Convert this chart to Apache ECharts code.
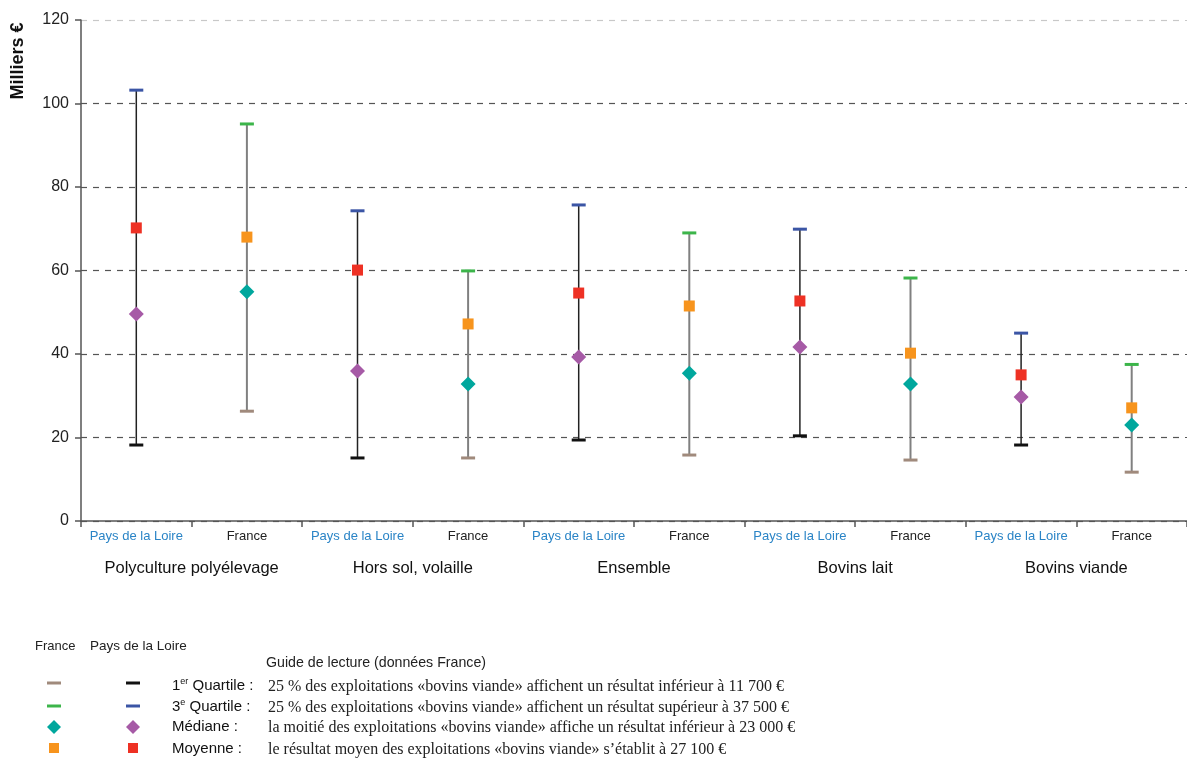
<!DOCTYPE html>
<html><head><meta charset="utf-8">
<script src="https://cdn.jsdelivr.net/npm/echarts@6/dist/echarts.min.js"></script>
<style>html,body{margin:0;padding:0;background:#fff}#c{width:1187px;height:758px}</style>
</head><body><div id="c"></div>
<script>
var groups = ['Polyculture polyélevage', 'Hors sol, volaille', 'Ensemble', 'Bovins lait', 'Bovins viande'];
var categories = ['Pays de la Loire','France','Pays de la Loire','France','Pays de la Loire','France','Pays de la Loire','France','Pays de la Loire','France'];
// Pays de la Loire values (milliers €), one per group
var pdlQ1 = [18.2, 15.1, 19.4, 20.4, 18.2];
var pdlQ3 = [103.2, 74.3, 75.7, 69.9, 45.0];
var pdlMedian = [49.6, 35.9, 39.3, 41.7, 29.7];
var pdlMean = [70.2, 60.1, 54.6, 52.7, 35.0];
// France values
var frQ1 = [26.3, 15.1, 15.8, 14.6, 11.7];
var frQ3 = [95.1, 59.9, 69.0, 58.2, 37.5];
var frMedian = [54.9, 32.8, 35.4, 32.8, 23.0];
var frMean = [68.0, 47.2, 51.5, 40.2, 27.1];
var yTicks = [0, 20, 40, 60, 80, 100, 120];

var legendRows = [
  {label: '1', sup: 'er', rest: ' Quartile :', text: '25 % des exploitations «bovins viande» affichent un résultat inférieur à 11 700 €'},
  {label: '3', sup: 'e', rest: ' Quartile :', text: '25 % des exploitations «bovins viande» affichent un résultat supérieur à 37 500 €'},
  {label: 'Médiane :', sup: '', rest: '', text: 'la moitié des exploitations «bovins viande» affiche un résultat inférieur à 23 000 €'},
  {label: 'Moyenne :', sup: '', rest: '', text: 'le résultat moyen des exploitations «bovins viande» s’établit à 27 100 €'}
];

var C = {
  pdlStem: '#222', frStem: '#808080',
  pdlQ1: '#111', frQ1: '#a08a7c',
  pdlQ3: '#3b55a5', frQ3: '#3cb54a',
  pdlMed: '#a65aa6', frMed: '#00a79d',
  pdlMean: '#ee3124', frMean: '#f7941d'
};

function idx(g, isF){ return g*2 + (isF?1:0); }
function whiskerData(q1, q3, isF){ return q1.map(function(v,g){ return [idx(g,isF), v, q3[g]]; }); }
function pointData(arr, isF){ return arr.map(function(v,g){ return [idx(g,isF), v]; }); }

function makeWhisker(name, data, stem, c1, c3, sw){
  return {
    type: 'custom', name: name, xAxisIndex: 0, yAxisIndex: 0, z: 2,
    data: data,
    renderItem: function(params, api){
      var x = api.value(0);
      var lo = api.coord([x, api.value(1)]);
      var hi = api.coord([x, api.value(2)]);
      var hw = 7;
      return {type: 'group', children: [
        {type: 'line', shape: {x1: lo[0], y1: lo[1], x2: hi[0], y2: hi[1]}, style: {stroke: stem, lineWidth: sw}},
        {type: 'line', shape: {x1: lo[0]-hw, y1: lo[1], x2: lo[0]+hw, y2: lo[1]}, style: {stroke: c1, lineWidth: 3}},
        {type: 'line', shape: {x1: hi[0]-hw, y1: hi[1], x2: hi[0]+hw, y2: hi[1]}, style: {stroke: c3, lineWidth: 3}}
      ]};
    }
  };
}

var narrow = '"Liberation Sans Narrow", "Liberation Sans", Arial, sans-serif';
var sans = '"Liberation Sans", Arial, sans-serif';
var serif = '"Liberation Serif", "DejaVu Serif", serif';

var graphics = [
  {type: 'text', rotation: Math.PI/2, x: 18, y: 61, style: {text: 'Milliers €', font: 'bold 18px ' + sans, fill: '#111', align: 'center', verticalAlign: 'middle'}},
  {type: 'text', x: 35, y: 646, style: {text: 'France', font: '13px ' + narrow, fill: '#222', verticalAlign: 'middle'}},
  {type: 'text', x: 90, y: 646, style: {text: 'Pays de la Loire', font: '13.5px ' + narrow, fill: '#222', verticalAlign: 'middle'}},
  {type: 'text', x: 266, y: 663, style: {text: 'Guide de lecture (données France)', font: '14.2px ' + narrow, fill: '#222', verticalAlign: 'middle'}}
];
var rowY = [686, 707, 727, 749];
rowY.forEach(function(y, i){
  var r = legendRows[i];
  var lx = 172;
  graphics.push({type: 'text', x: lx, y: y, style: {
    text: r.sup ? '{a|' + r.label + '}{s|' + r.sup + '}{a|' + r.rest + '}' : '{a|' + r.label + '}',
    rich: {a: {font: '15px ' + narrow, fill: '#111'}, s: {font: '9px ' + narrow, fill: '#111', verticalAlign: 'top', padding: [0,0,9,0]}},
    verticalAlign: 'middle'}});
  graphics.push({type: 'text', x: 268, y: y + 1, style: {text: r.text, font: '16px ' + serif, fill: '#222', verticalAlign: 'middle'}});
});
// legend symbols
graphics.push({type: 'line', shape: {x1: 47, y1: 683, x2: 61, y2: 683}, style: {stroke: C.frQ1, lineWidth: 3}});
graphics.push({type: 'line', shape: {x1: 126, y1: 683, x2: 140, y2: 683}, style: {stroke: C.pdlQ1, lineWidth: 3}});
graphics.push({type: 'line', shape: {x1: 47, y1: 706, x2: 61, y2: 706}, style: {stroke: C.frQ3, lineWidth: 3}});
graphics.push({type: 'line', shape: {x1: 126, y1: 706, x2: 140, y2: 706}, style: {stroke: C.pdlQ3, lineWidth: 3}});
graphics.push({type: 'polygon', shape: {points: [[54,720],[61,727],[54,734],[47,727]]}, style: {fill: C.frMed}});
graphics.push({type: 'polygon', shape: {points: [[133,720],[140,727],[133,734],[126,727]]}, style: {fill: C.pdlMed}});
graphics.push({type: 'rect', shape: {x: 49, y: 743, width: 10, height: 10}, style: {fill: C.frMean}});
graphics.push({type: 'rect', shape: {x: 128, y: 743, width: 10, height: 10}, style: {fill: C.pdlMean}});

var chart = echarts.init(document.getElementById('c'));
chart.setOption({
  animation: false,
  backgroundColor: '#fff',
  grid: {left: 81, right: -5, top: 20, bottom: 237, containLabel: false},
  xAxis: [{
    type: 'category', data: categories, position: 'bottom', boundaryGap: true,
    axisLine: {show: true, lineStyle: {color: '#555', width: 1.5}},
    axisTick: {show: true, length: 6, lineStyle: {color: '#555', width: 1.5}},
    axisLabel: {margin: 9, interval: 0, fontFamily: narrow, fontSize: 13,
      formatter: function(v){ return v === 'France' ? '{f|' + v + '}' : '{p|' + v + '}'; },
      rich: {f: {color: '#222', fontFamily: narrow, fontSize: 13}, p: {color: '#2a84c6', fontFamily: narrow, fontSize: 13}}}
  }, {
    type: 'category', data: groups, position: 'bottom', gridIndex: 0, boundaryGap: true,
    axisLine: {show: false}, axisTick: {show: false}, splitLine: {show: false},
    axisLabel: {margin: 39, interval: 0, color: '#111', fontFamily: narrow, fontSize: 16.5}
  }],
  yAxis: {
    type: 'value', min: 0, max: 120, interval: 20,
    axisLine: {show: true, lineStyle: {color: '#555', width: 1.5}},
    axisTick: {show: true, length: 6, lineStyle: {color: '#555', width: 1.5}},
    axisLabel: {margin: 12, color: '#222', fontFamily: sans, fontSize: 16},
    splitLine: {show: true, lineStyle: {type: [6, 6], width: 1.2,
      color: ['#555','#555','#555','#555','#555','#555','#c8c8c8']}}
  },
  series: [
    makeWhisker('PdL', whiskerData(pdlQ1, pdlQ3, false), C.pdlStem, C.pdlQ1, C.pdlQ3, 1.5),
    makeWhisker('France', whiskerData(frQ1, frQ3, true), C.frStem, C.frQ1, C.frQ3, 2),
    {type: 'scatter', name: 'Médiane PdL', data: pointData(pdlMedian, false), symbol: 'diamond', symbolSize: [15, 15], itemStyle: {color: C.pdlMed, opacity: 1}, z: 3},
    {type: 'scatter', name: 'Médiane France', data: pointData(frMedian, true), symbol: 'diamond', symbolSize: [15, 15], itemStyle: {color: C.frMed, opacity: 1}, z: 3},
    {type: 'scatter', name: 'Moyenne PdL', data: pointData(pdlMean, false), symbol: 'rect', symbolSize: 11, itemStyle: {color: C.pdlMean, opacity: 1}, z: 3},
    {type: 'scatter', name: 'Moyenne France', data: pointData(frMean, true), symbol: 'rect', symbolSize: 11, itemStyle: {color: C.frMean, opacity: 1}, z: 3}
  ],
  graphic: graphics
});
</script>
</body></html>
